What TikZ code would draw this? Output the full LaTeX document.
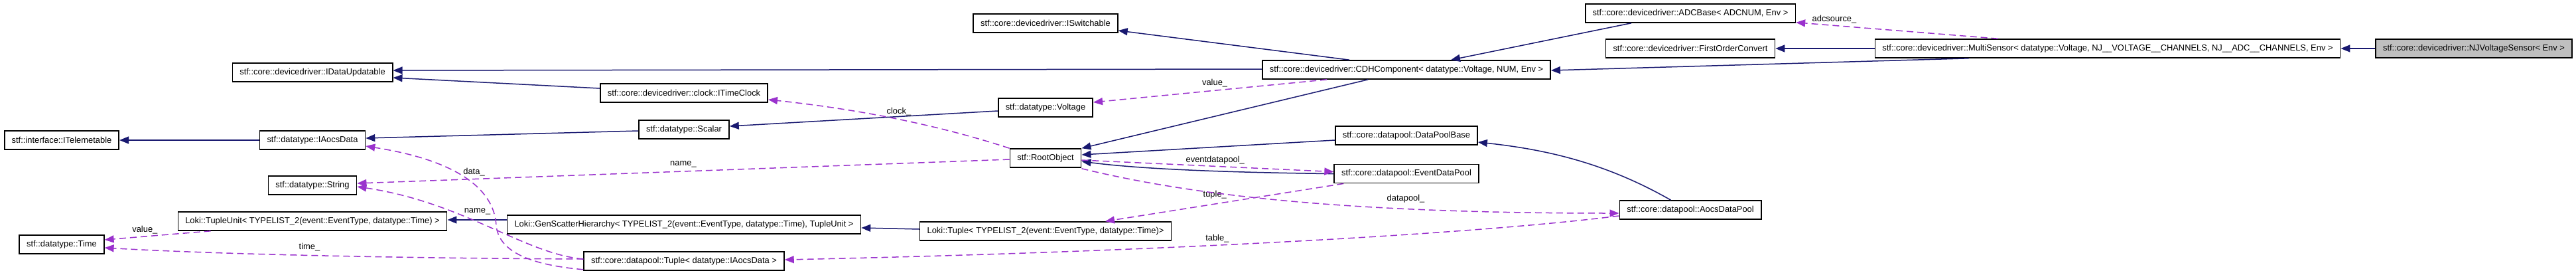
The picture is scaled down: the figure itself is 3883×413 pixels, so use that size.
\documentclass[tikz,border=0pt]{standalone}
\usepackage{fontspec}
\setmainfont{Liberation Sans}
\usetikzlibrary{arrows.meta,calc,positioning}

\definecolor{inhblue}{HTML}{191970}
\definecolor{memviolet}{HTML}{9A32CD}
\definecolor{curgray}{HTML}{BFBFBF}

\begin{document}
\begin{tikzpicture}[%
      x=1pt,y=-1pt,                % one unit per pixel, y running down
      >={Triangle[length=14pt,width=11pt]},
      node distance=51pt,
      font=\fontsize{12.9}{15}\selectfont
      ]
  \tikzset{
     cls/.style={draw=black,line width=1.6pt,rectangle,minimum height=28pt,
                 inner xsep=11pt,inner ysep=0pt,fill=white},
     cur/.style={cls,fill=curgray},
     inh/.style={draw=inhblue,line width=1.5pt,->},
     mem/.style={draw=memviolet,line width=1.5pt,dash pattern=on 10pt off 6pt,->},
     lbl/.style={inner sep=1pt,text=black}}
 \useasboundingbox (0,0) rectangle (3883,413);

 % column of the base interfaces
 \node [cls] (itel) at (93,211) {stf::interface::ITelemetable};
 \node [cls] (time) at (93,368) {stf::datatype::Time};

 \node [cls] (idataupd) at (471,109) {stf::core::devicedriver::IDataUpdatable};
 \node [cls] (iaocs) at (471,211) {stf::datatype::IAocsData};
 \node [cls] (string) at (471,279) {stf::datatype::String};
 \node [cls] (tupleunit) at (471,333) {Loki::TupleUnit< TYPELIST\_2(event::EventType, datatype::Time) >};

 \node [cls] (itimeclock) at (1031,140) {stf::core::devicedriver::clock::ITimeClock};
 \node [cls] (scalar) at (1031,195) {stf::datatype::Scalar};
 \node [cls] (genscatter) at (1031,338) {Loki::GenScatterHierarchy< TYPELIST\_2(event::EventType, datatype::Time), TupleUnit >};
 \node [cls] (dptuple) at (1031,393) {stf::core::datapool::Tuple< datatype::IAocsData >};

 \node [cls] (iswitch) at (1576,35) {stf::core::devicedriver::ISwitchable};
 \node [cls] (voltage) at (1576,162) {stf::datatype::Voltage};
 \node [cls] (rootobj) at (1576,238) {stf::RootObject};
 \node [cls] (lokituple) at (1576,348) {Loki::Tuple< TYPELIST\_2(event::EventType, datatype::Time)>};

 \node [cls] (cdh) at (2120,105) {stf::core::devicedriver::CDHComponent< datatype::Voltage, NUM, Env >};
 \node [cls] (dpbase) at (2120,204) {stf::core::datapool::DataPoolBase};
 \node [cls,below=28pt of dpbase] (eventdp) {stf::core::datapool::EventDataPool};

 \node [cls] (adcbase) at (2548,20) {stf::core::devicedriver::ADCBase< ADCNUM, Env >};
 \node [cls] (foc) at (2548,73) {stf::core::devicedriver::FirstOrderConvert};
 \node [cls] (aocsdp) at (2548,316) {stf::core::datapool::AocsDataPool};

 \node [cls] (multi) at (3177,73) {stf::core::devicedriver::MultiSensor< datatype::Voltage, NJ\_\_VOLTAGE\_\_CHANNELS, NJ\_\_ADC\_\_CHANNELS, Env >};
 \node [cur] (njvs) at (3729,73) {stf::core::devicedriver::NJVoltageSensor< Env >};

 % inheritance
 \draw[inh] (njvs) -- (multi);
 \draw[inh] (multi) -- (foc);
 \draw[inh] ($(multi.south west)+(142,0)$) -- ($(cdh.east)+(0,1)$);
 \draw[inh] ($(adcbase.south west)+(70,0)$) -- ($(cdh.north)+(67,0)$);
 \draw[inh] ($(cdh.north west)+(132,0)$) -- ($(iswitch.east)+(0,11)$);
 \draw[inh] ($(cdh.west)+(0,-1)$) -- ($(idataupd.east)+(0,-3)$);
 \draw[inh] ($(cdh.south west)+(160,0)$) -- (rootobj.north east);
 \draw[inh] ($(dpbase.west)+(0,7)$) -- ($(rootobj.east)+(0,-5)$);
 \draw[inh] (eventdp.west) .. controls (1800,259) and (1700,252) .. ($(rootobj.east)+(0,5)$);
 \draw[inh] ($(aocsdp.north west)+(78,0)$) .. controls (2420,245) and (2330,225) .. ($(dpbase.east)+(0,10)$);
 \draw[inh] ($(itimeclock.west)+(0,-7)$) -- ($(idataupd.east)+(0,8)$);
 \draw[inh] ($(voltage.west)+(0,5)$) -- ($(scalar.east)+(0,-5)$);
 \draw[inh] ($(scalar.west)+(0,2)$) -- ($(iaocs.east)+(0,-3)$);
 \draw[inh] (iaocs) -- (itel);
 \draw[inh] ($(genscatter.west)+(0,-7)$) -- ($(tupleunit.east)+(0,-2)$);
 \draw[inh] ($(lokituple.west)+(0,-3)$) -- ($(genscatter.east)+(0,5)$);

 % members
 \draw[mem] ($(multi.north west)+(186,0)$) -- node[lbl,pos=0.81,above=2pt]{adcsource\_} ($(adcbase.south east)+(0,-1)$);
 \draw[mem] ($(cdh.south west)+(98,0)$) -- node[lbl,pos=0.48,above=3pt]{value\_} ($(voltage.east)+(0,-8)$);
 \draw[mem] (rootobj.north west) .. controls (1420,190) and (1300,165) .. node[lbl,pos=0.5,above=4pt]{clock\_} ($(itimeclock.east)+(0,10)$);
 \draw[mem] ($(rootobj.west)+(0,2)$) -- node[lbl,pos=0.5,above=4pt]{name\_} ($(string.east)+(0,-3)$);
 \draw[mem] ($(rootobj.east)+(0,3)$) -- node[lbl,pos=0.53,above=1pt]{eventdatapool\_} ($(eventdp.west)+(0,-3)$);
 \draw[mem] ($(eventdp.south west)+(15,0)$) -- node[lbl,pos=0.54,above=6pt]{tuple\_} ($(lokituple.north)+(90,0)$);
 \draw[mem] ($(rootobj.south east)+(0,1)$) .. controls (1780,290) and (2000,321) .. node[lbl,pos=0.72,above=7pt]{datapool\_} ($(aocsdp.west)+(0,5)$);
 \draw[mem] ($(aocsdp.west)+(0,9)$) .. controls (2200,355) and (1700,380) .. node[lbl,pos=0.56,above=2pt]{table\_} ($(dptuple.east)+(0,-2)$);
 \draw[mem] ($(tupleunit.south west)+(50,0)$) -- node[lbl,pos=0.62,above=2pt]{value\_} ($(time.east)+(0,-7)$);
 \draw[mem] ($(dptuple.west)+(0,-3)$) .. controls (650,389) and (350,384) .. node[lbl,pos=0.55,above=5pt]{time\_} ($(time.east)+(0,5)$);
 \draw[mem] ($(dptuple.south west)+(0,-2)$) .. controls (790,398) and (752,375) .. (748,340)
   .. controls (745,280) and (680,240) .. node[lbl,pos=0.4,above=11pt]{data\_} ($(iaocs.east)+(0,9)$);
 \draw[mem] ($(dptuple.west)+(0,-3)$) .. controls (790,382) and (700,305) .. node[lbl,pos=0.55,above=10pt]{name\_} ($(string.east)+(0,2)$);
\end{tikzpicture}
\end{document}
